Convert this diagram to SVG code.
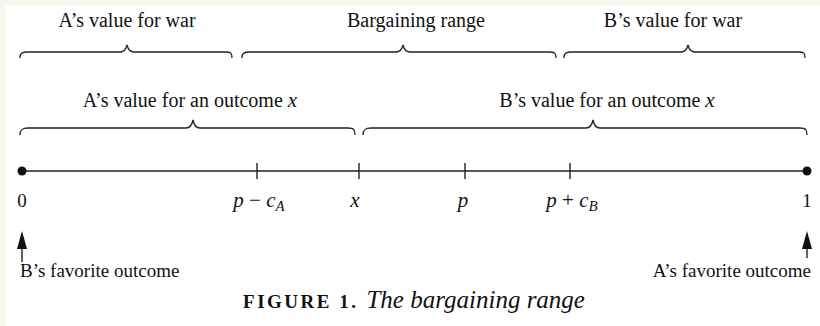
<svg xmlns="http://www.w3.org/2000/svg" width="820" height="326" viewBox="0 0 820 326">
<style>
  .t{font-family:"Liberation Serif","Times New Roman",serif;font-size:20px;fill:#111}
  .b{font-family:"Liberation Serif","Times New Roman",serif;font-size:19px;fill:#111}
  .m{font-family:"Liberation Serif","Times New Roman",serif;font-size:21px;font-style:italic;fill:#111}
  .br{fill:none;stroke:#222;stroke-width:1.3}
  .ax{stroke:#222;stroke-width:1.4;fill:none}
  .ar{fill:#111}
</style>
<rect x="0" y="0" width="820" height="326" fill="#ffffff"/>
<rect x="0" y="0" width="820" height="5" fill="#f8f7ee"/>
<rect x="0" y="0" width="5" height="326" fill="#f8f7ee"/>

<g id="braces">
  <g id="a-war">
    <text class="t" x="127" y="27" text-anchor="middle">A’s value for war</text>
    <path class="br" d="M20,58 C20,53 22,52 28,52 L120,52 C124,52 126,49 127,45 C128,49 130,52 134,52 L225,52 C231,52 232,53 232,58"/>
  </g>
  <g id="bargaining">
    <text class="t" x="416" y="27" text-anchor="middle">Bargaining range</text>
    <path class="br" d="M242,58 C242,53 244,52 250,52 L396,52 C400,52 402,49 403,45 C404,49 406,52 410,52 L549,52 C555,52 556,53 556,58"/>
  </g>
  <g id="b-war">
    <text class="t" x="673" y="27" text-anchor="middle">B’s value for war</text>
    <path class="br" d="M564,58 C564,53 566,52 572,52 L681,52 C685,52 687,49 688,45 C689,49 691,52 695,52 L798,52 C804,52 805,53 805,58"/>
  </g>
  <g id="a-outcome">
    <text class="t" x="190" y="107" text-anchor="middle">A’s value for an outcome <tspan class="m">x</tspan></text>
    <path class="br" d="M20,135 C20,130 22,128 28,128 L186,128 C190,128 192,125 193,120 C194,125 196,128 200,128 L348,128 C354,128 355,130 355,135"/>
  </g>
  <g id="b-outcome">
    <text class="t" x="607" y="107" text-anchor="middle">B’s value for an outcome <tspan class="m">x</tspan></text>
    <path class="br" d="M363,135 C363,130 365,128 371,128 L586,128 C590,128 592,125 593,120 C594,125 596,128 600,128 L800,128 C806,128 807,130 807,135"/>
  </g>
</g>

<g id="axis">
  <line class="ax" x1="22" y1="171" x2="807" y2="171"/>
  <circle cx="22" cy="171" r="4.5" fill="#111"/>
  <circle cx="807" cy="171" r="4.5" fill="#111"/>
  <line class="ax" x1="257" y1="163" x2="257" y2="179"/>
  <line class="ax" x1="359" y1="163" x2="359" y2="179"/>
  <line class="ax" x1="465" y1="163" x2="465" y2="179"/>
  <line class="ax" x1="570" y1="163" x2="570" y2="179"/>
</g>

<g id="labels">
  <text class="b" x="22" y="207" text-anchor="middle">0</text>
  <text class="m" x="259" y="207" text-anchor="middle">p <tspan font-style="normal">−</tspan> c<tspan font-size="15" dy="4">A</tspan></text>
  <text class="m" x="355" y="207" text-anchor="middle">x</text>
  <text class="m" x="463" y="207" text-anchor="middle">p</text>
  <text class="m" x="572" y="207" text-anchor="middle">p <tspan font-style="normal">+</tspan> c<tspan font-size="15" dy="4">B</tspan></text>
  <text class="b" x="807" y="207" text-anchor="middle">1</text>
</g>

<g id="arrows">
  <line class="ax" x1="22" y1="262" x2="22" y2="244" stroke-width="1"/>
  <polygon class="ar" points="22,231 27,249 17,249"/>
  <line class="ax" x1="807" y1="258" x2="807" y2="244" stroke-width="1"/>
  <polygon class="ar" points="807,231 812,249 802,249"/>
</g>

<g id="bottom">
  <text class="b" x="20" y="277">B’s favorite outcome</text>
  <text class="b" x="811" y="277" text-anchor="end">A’s favorite outcome</text>
  <text x="414" y="308" text-anchor="middle" font-family="Liberation Serif, serif" font-size="19" font-weight="bold" letter-spacing="2.5" fill="#111">FIGURE 1.<tspan font-size="25" font-weight="normal" font-style="italic" letter-spacing="0" dx="8">The bargaining range</tspan></text>
</g>
</svg>
